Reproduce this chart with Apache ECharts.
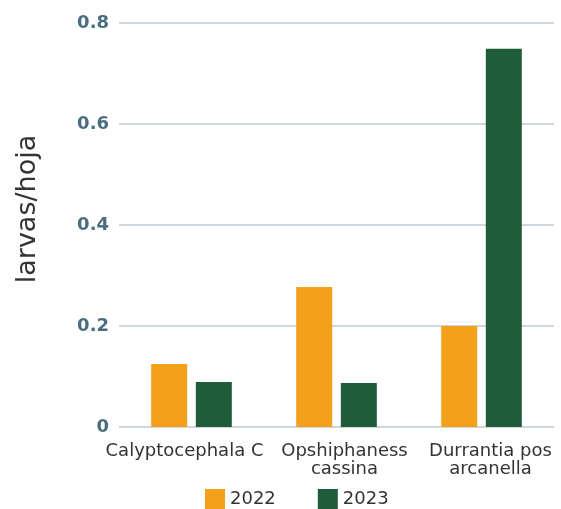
<!DOCTYPE html>
<html><head><meta charset="utf-8">
<script src="https://cdn.jsdelivr.net/npm/echarts@6/dist/echarts.min.js"></script>
<style>html,body{margin:0;padding:0;background:#fff}#c{width:561px;height:509px}</style>
</head><body><div id="c"></div>
<script>
const categories = ["Calyptocephala C", "Opshiphaness\ncassina", "Durrantia pos\narcanella"];
const seriesNames = ["2022", "2023"];
const values2022 = [0.125, 0.277, 0.2];
const values2023 = [0.089, 0.087, 0.749];
const yTicks = [0, 0.2, 0.4, 0.6, 0.8];
const colors = ["#F3A01B", "#1F5C3A"];
const labelPads = [[0, 14, 0, 0], [0, 0, 0, 16], [0, 0, 0, 18]];

const chart = echarts.init(document.getElementById('c'));
chart.setOption({
  animation: false,
  color: colors,
  grid: {left: 119, right: 7, top: 23, bottom: 82},
  legend: {
    bottom: -5, left: 200,
    itemWidth: 20, itemHeight: 20, itemGap: 42,
    icon: 'rect',
    textStyle: {fontFamily: 'DejaVu Sans', fontSize: 18, color: '#333'},
    data: seriesNames
  },
  xAxis: {
    type: 'category',
    data: categories.map((c, i) => ({value: c, textStyle: {padding: labelPads[i]}})),
    axisLine: {show: false}, axisTick: {show: false},
    axisLabel: {fontFamily: 'DejaVu Sans', fontSize: 18, color: '#333', margin: 15, lineHeight: 18, interval: 0}
  },
  yAxis: {
    type: 'value', min: 0, max: 0.8, interval: 0.2,
    name: 'larvas/hoja', nameLocation: 'middle', nameGap: 78,
    nameTextStyle: {fontFamily: 'DejaVu Sans', fontSize: 27, color: '#333', padding: [0, 0, 0, 32]},
    axisLabel: {fontFamily: 'DejaVu Sans', fontSize: 18, fontWeight: 'bold', color: '#4A6E7E', margin: 10,
      formatter: v => { const t = yTicks.find(x => Math.abs(x - v) < 1e-9); return t === 0 ? '0' : String(t); }},
    splitLine: {lineStyle: {color: '#CDD7DD', width: 2}},
    axisLine: {show: false}, axisTick: {show: false}
  },
  series: [
    {name: seriesNames[0], type: 'bar', data: values2022, barWidth: 36, barGap: '24%'},
    {name: seriesNames[1], type: 'bar', data: values2023, barWidth: 36, barGap: '24%'}
  ]
});
</script></body></html>
